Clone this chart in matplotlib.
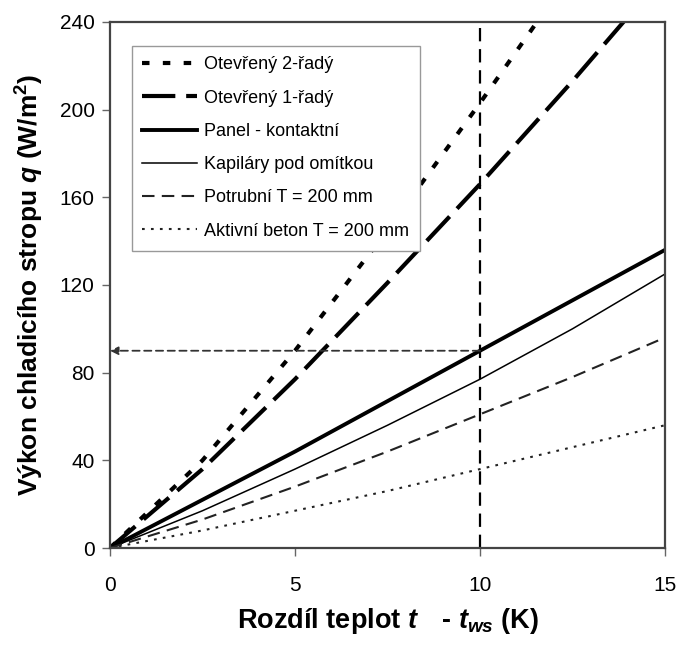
import matplotlib
matplotlib.use("Agg")
import matplotlib.pyplot as plt
from matplotlib import font_manager as fm

names = {f.name for f in fm.fontManager.ttflist}
base = 'Liberation Sans Narrow' if 'Liberation Sans Narrow' in names else 'Liberation Sans'
plt.rcParams['font.family'] = [base, 'DejaVu Sans']
plt.rcParams['mathtext.fontset'] = 'custom'
plt.rcParams['mathtext.it'] = base + ':italic:bold'
plt.rcParams['mathtext.rm'] = base + ':bold'
plt.rcParams['mathtext.bf'] = base + ':bold'

# Data
x = [0, 2.5, 5, 7.5, 10, 12.5, 15]
otevreny2 = [0, 40, 90, 145, 203, 263, 330]
otevreny1 = [0, 36, 77, 121, 166, 213, 262]
panel = [0, 22, 44, 67, 90, 113, 136]
kapilary = [0, 17, 36, 56, 77, 100, 125]
potrubni = [0, 13, 28, 44, 61, 78, 96]
aktivni = [0, 8, 17, 26, 36, 46, 56]
labels = ['Otevřený 2-řadý', 'Otevřený 1-řadý', 'Panel - kontaktní',
          'Kapiláry pod omítkou', 'Potrubní T = 200 mm', 'Aktivní beton T = 200 mm']
x_ticks = [0, 5, 10, 15]
y_ticks = [0, 40, 80, 120, 160, 200, 240]
x_mark = 10
y_mark = 90

fig = plt.figure(figsize=(6.76, 6.46), dpi=100)
ax = fig.add_axes([0.1627, 0.1517, 0.821, 0.8143])

ax.plot(x, otevreny2, color='black', lw=3.0, dashes=(1.8, 3.2), label=labels[0])
ax.plot(x, otevreny1, color='black', lw=3.0, dashes=(8, 2.6), label=labels[1])
ax.plot(x, panel, color='black', lw=2.8, label=labels[2])
ax.plot(x, kapilary, color='black', lw=1.1, label=labels[3])
ax.plot(x, potrubni, color='#222222', lw=1.5, dashes=(6, 3.5), label=labels[4])
ax.plot(x, aktivni, color='#222222', lw=1.5, dashes=(1.3, 3), label=labels[5])

ax.axvline(x_mark, color='black', lw=1.6, dashes=(6, 3.5))
ax.annotate('', xy=(0, y_mark), xytext=(x_mark, y_mark),
            arrowprops=dict(arrowstyle='-|>', color='#333333', lw=1.3,
                            linestyle=(0, (4, 2.5)), mutation_scale=12,
                            shrinkA=0, shrinkB=0))

ax.set_xlim(0, 15)
ax.set_ylim(0, 240)
ax.set_xticks(x_ticks)
ax.set_yticks(y_ticks)
ax.tick_params(direction='out', length=6, width=1, color='#666666',
               labelsize=15, pad=5)
ax.tick_params(axis='x', pad=14)
for s in ax.spines.values():
    s.set_color('#444444')
    s.set_linewidth(1.6)

ax.set_xlabel(r'Rozdíl teplot $t_{\ \ \ }$ - $t_{ws}$ (K)', fontsize=19.5,
              fontweight='bold', labelpad=8)
ax.set_ylabel(r'Výkon chladicího stropu $q$ (W/m$^{2}$)', fontsize=19,
              fontweight='bold', labelpad=10)

leg = ax.legend(loc='upper left', bbox_to_anchor=(0.039, 0.955), fontsize=13,
                frameon=True, fancybox=False, framealpha=1, edgecolor='#999999',
                handlelength=3.0, handletextpad=0.4, labelspacing=0.9,
                borderpad=0.6, borderaxespad=0)
leg.get_frame().set_linewidth(1.0)

fig.savefig('out.png', dpi=100)
